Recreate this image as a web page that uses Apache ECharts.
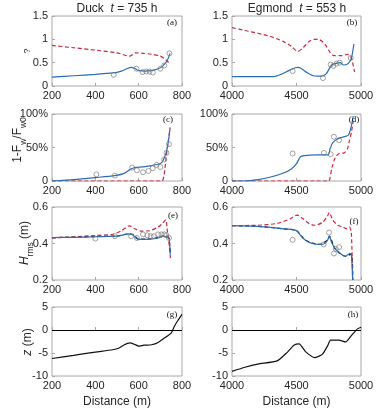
<!DOCTYPE html>
<html><head><meta charset="utf-8">
<script src="https://cdn.jsdelivr.net/npm/echarts@6/dist/echarts.min.js"></script>
<style>html,body{margin:0;padding:0;background:#fff}#c{width:379px;height:413px}</style>
</head><body><div id="c"></div>
<script>
// ---- data ----
const duckXTicks = [200, 800, 200];      // min, max, interval
const egXTicks = [4000, 5000, 500];
const gammaTicks = [0, 1.5, 0.5];
const fluxTicks = [0, 100, 50];
const hrmsTicks = [0.2, 0.6, 0.2];
const zTicks = [-10, 5, 5];

const duckGammaModel = [[200,0.19],[300,0.22],[400,0.25],[480,0.28],[520,0.32],[545,0.37],[565,0.40],[580,0.38],[600,0.33],[630,0.32],[660,0.33],[690,0.37],[710,0.42],[725,0.50],[735,0.58],[745,0.70]];
const duckGammaRef = [[200,0.87],[300,0.82],[400,0.77],[500,0.71],[560,0.64],[585,0.71],[620,0.70],[660,0.68],[700,0.64],[720,0.58],[735,0.52],[745,0.47]];
const duckGammaObs = [[485,0.24],[590,0.37],[618,0.30],[635,0.31],[650,0.31],[665,0.29],[700,0.37],[718,0.44],[742,0.70]];

const egGammaModel = [[4000,0.2],[4150,0.2],[4320,0.2],[4380,0.25],[4440,0.33],[4490,0.39],[4510,0.40],[4540,0.37],[4580,0.29],[4630,0.22],[4690,0.21],[4730,0.26],[4760,0.40],[4780,0.46],[4815,0.49],[4840,0.50],[4865,0.45],[4895,0.47],[4915,0.53],[4930,0.65],[4945,0.90]];
const egGammaRef = [[4000,1.25],[4100,1.19],[4200,1.13],[4300,1.06],[4400,0.95],[4460,0.85],[4510,0.74],[4550,0.82],[4600,0.96],[4640,1.0],[4680,0.99],[4720,0.90],[4760,0.72],[4790,0.65],[4850,0.65],[4895,0.68],[4920,0.64],[4935,0.50],[4950,0.30]];
const egGammaObs = [[4470,0.32],[4705,0.17],[4765,0.46],[4785,0.43],[4810,0.48],[4835,0.50],[4920,0.60]];

const duckFluxModel = [[200,0],[300,2],[400,5],[490,8],[530,11],[560,17],[580,20],[620,21],[660,23],[690,25],[705,27],[715,32],[725,40],[735,55],[745,78]];
const duckFluxRef = [[200,0],[706,0],[712,2],[718,10],[726,33],[736,58],[745,80]];
const duckFluxObs = [[405,10],[490,8],[570,20],[592,16],[620,13],[645,15],[665,19],[683,24],[700,21],[718,32],[728,42],[740,55]];

const egFluxModel = [[4000,0],[4100,0],[4200,2],[4300,6],[4400,12],[4460,18],[4500,26],[4530,36],[4560,38],[4650,39],[4745,39],[4760,48],[4780,57],[4810,62],[4850,65],[4900,68],[4920,78],[4940,97]];
const egFluxRef = [[4000,0],[4750,0],[4760,5],[4775,20],[4800,35],[4830,41],[4870,42],[4895,48],[4910,60],[4925,72],[4940,90]];
const egFluxObs = [[4470,41],[4712,42],[4765,40],[4790,66],[4830,61]];

const duckHModel = [[200,0.432],[300,0.434],[400,0.437],[500,0.44],[530,0.447],[550,0.453],[570,0.45],[590,0.428],[605,0.423],[650,0.424],[690,0.43],[715,0.44],[730,0.435],[740,0.43],[746,0.34]];
const duckHRef = [[200,0.43],[300,0.437],[400,0.444],[480,0.45],[520,0.47],[557,0.497],[580,0.482],[611,0.468],[650,0.47],[690,0.49],[710,0.51],[725,0.53],[733,0.46],[740,0.40],[747,0.32]];
const duckHAlt = [[200,0.432],[300,0.435],[400,0.438],[500,0.441],[550,0.452],[575,0.448],[600,0.424],[650,0.425],[690,0.432],[715,0.442],[732,0.437],[740,0.43],[746,0.34]];
const duckHObs = [[400,0.427],[490,0.44],[565,0.44],[592,0.43],[620,0.45],[640,0.445],[655,0.44],[670,0.44],[690,0.45],[705,0.45],[718,0.45],[728,0.445],[740,0.43]];

const egHModel = [[4000,0.498],[4100,0.497],[4200,0.494],[4300,0.488],[4400,0.48],[4480,0.475],[4505,0.468],[4530,0.445],[4570,0.418],[4620,0.40],[4680,0.395],[4720,0.40],[4742,0.42],[4755,0.44],[4770,0.41],[4800,0.37],[4850,0.34],[4880,0.33],[4910,0.345],[4925,0.342],[4935,0.20]];
const egHRef = [[4000,0.498],[4200,0.50],[4350,0.51],[4450,0.535],[4505,0.556],[4550,0.535],[4600,0.508],[4640,0.50],[4700,0.515],[4740,0.55],[4755,0.57],[4780,0.53],[4820,0.50],[4860,0.49],[4890,0.48],[4910,0.49],[4925,0.46],[4935,0.20]];
const egHAlt = [[4000,0.498],[4200,0.494],[4400,0.48],[4500,0.47],[4570,0.418],[4680,0.395],[4742,0.42],[4755,0.44],[4800,0.37],[4880,0.33],[4925,0.342],[4936,0.20]];
const egHObs = [[4470,0.42],[4710,0.395],[4753,0.46],[4790,0.345],[4805,0.37],[4830,0.38]];

const duckZ = [[200,-6.2],[300,-5.5],[400,-4.8],[480,-4.3],[510,-3.9],[530,-3.3],[560,-2.8],[580,-3.1],[600,-3.5],[625,-3.3],[660,-3.2],[690,-2.7],[720,-1.7],[750,-0.7],[765,0.8],[780,2.0],[800,3.4]];
const egZ = [[4000,-9],[4100,-8.1],[4200,-7.4],[4350,-6.7],[4430,-4.8],[4480,-3.3],[4520,-3.0],[4570,-4.7],[4640,-6.0],[4700,-5.3],[4740,-3.5],[4765,-2.2],[4830,-2.2],[4880,-2.6],[4920,-1.4],[4970,0.2],[5000,0.6]];

const panelLabels = ['(a)','(b)','(c)','(d)','(e)','(f)','(g)','(h)'];

// ---- layout ----
const FONT = '"Liberation Sans", Arial, sans-serif';
const SERIF = '"Liberation Serif", "Times New Roman", serif';
const BLUE = '#2a6db5', RED = '#c9283e', GRAYC = '#7d7d7d';
const grids = [
  {left:52, top:16, width:130, height:70},
  {left:232, top:16, width:129, height:70},
  {left:52, top:114, width:130, height:67},
  {left:232, top:114, width:129, height:67},
  {left:52, top:207, width:130, height:73},
  {left:232, top:207, width:129, height:73},
  {left:52, top:307, width:130, height:69},
  {left:232, top:307, width:129, height:69}
].map(g => Object.assign({show:true, borderColor:'#a8a8a8', borderWidth:1, backgroundColor:'#fff'}, g));

const yTicksList = [gammaTicks, gammaTicks, fluxTicks, fluxTicks, hrmsTicks, hrmsTicks, zTicks, zTicks];
const tickStyle = {show:true, inside:true, length:3, lineStyle:{color:'#a8a8a8', width:1}};
const xAxes = grids.map((g,i) => {
  const t = i % 2 === 0 ? duckXTicks : egXTicks;
  return {
    gridIndex:i, type:'value', min:t[0], max:t[1], interval:t[2],
    axisLine:{show:false}, axisTick:tickStyle, splitLine:{show:false},
    axisLabel:{color:'#262626', fontFamily:FONT, fontSize:11, margin:4, formatter: v => String(v)},
    name: i >= 6 ? 'Distance (m)' : '', nameLocation:'middle', nameGap:20,
    nameTextStyle:{color:'#262626', fontFamily:FONT, fontSize:12}
  };
});
const yAxes = grids.map((g,i) => {
  const t = yTicksList[i];
  return {
    gridIndex:i, type:'value', min:t[0], max:t[1], interval:t[2],
    axisLine:{show:false}, axisTick:tickStyle, splitLine:{show:false},
    axisLabel:{color:'#262626', fontFamily:FONT, fontSize:11, margin:4,
      formatter: (i===2||i===3) ? (v => v===0 ? '0' : v+'%') : (v => String(v))}
  };
});

function line(idx, data, color, dashed, z) {
  return {type:'line', xAxisIndex:idx, yAxisIndex:idx, data:data, showSymbol:false, smooth:0.25,
    lineStyle:{color:color, width:1.2, type: dashed ? [4,2.5] : 'solid'}, z:z||3, silent:true};
}
function obs(idx, data) {
  return {type:'scatter', xAxisIndex:idx, yAxisIndex:idx, data:data, symbol:'circle', symbolSize:5,
    itemStyle:{color:'rgba(0,0,0,0)', borderColor:GRAYC, borderWidth:0.9}, z:5, silent:true};
}
const zeroLine = {silent:true, symbol:'none', label:{show:false}, lineStyle:{color:'#000', width:1, type:'solid'}, data:[{yAxis:0}]};

const series = [
  line(0, duckGammaRef, RED, true), line(0, duckGammaModel, BLUE, false, 4), obs(0, duckGammaObs),
  line(1, egGammaRef, RED, true), line(1, egGammaModel, BLUE, false, 4), obs(1, egGammaObs),
  line(2, duckFluxRef, RED, true), line(2, duckFluxModel, BLUE, false, 4), obs(2, duckFluxObs),
  line(3, egFluxRef, RED, true), line(3, egFluxModel, BLUE, false, 4), obs(3, egFluxObs),
  line(4, duckHAlt, '#111', true, 2), line(4, duckHRef, RED, true), line(4, duckHModel, BLUE, false, 4), obs(4, duckHObs),
  line(5, egHAlt, '#111', true, 2), line(5, egHRef, RED, true), line(5, egHModel, BLUE, false, 4), obs(5, egHObs),
  Object.assign(line(6, duckZ, '#111', false), {smooth:0.2, markLine:zeroLine}),
  Object.assign(line(7, egZ, '#111', false), {smooth:0.2, markLine:zeroLine})
];

const labelPos = [[172,23],[352,23],[168,120],[354,120],[173,216],[354,222],[172,315],[353,315]];
const graphic = panelLabels.map((t,i) => ({type:'text', x:labelPos[i][0], y:labelPos[i][1], z:10,
  style:{text:t, font:'9px ' + SERIF, fill:'#111', align:'center', verticalAlign:'middle'}}));

const RICH = {
  n:{fontFamily:FONT, fontSize:12, color:'#262626', lineHeight:12, verticalAlign:'top'},
  i:{fontFamily:FONT, fontSize:12, fontStyle:'italic', color:'#262626', lineHeight:12, verticalAlign:'top'},
  s:{fontFamily:FONT, fontSize:8.5, color:'#262626', lineHeight:8, padding:[7,0,0,0], verticalAlign:'top'}
};
function rtext(x, y, text, rot) {
  return {type:'text', x:x, y:y, rotation:rot||0, z:10,
    style:{text:text, rich:RICH, align:'center', verticalAlign:'middle', fill:'#262626'}};
}
graphic.push(rtext(117, 9, '{n|Duck  }{i|t}{n| = 735 h}'));
graphic.push(rtext(297, 9, '{n|Egmond  }{i|t}{n| = 553 h}'));
graphic.push({type:'text', x:28, y:51, rotation:Math.PI/2, z:10,
  style:{text:'?', font:'9px ' + FONT, fill:'#262626', align:'center', verticalAlign:'middle'}});
graphic.push(rtext(18, 140, '{n|1-F}{s|w}{n|/F}{s|w0}', Math.PI/2));
graphic.push(rtext(25, 243, '{i|H}{s|rms}{n| (m)}', Math.PI/2));
graphic.push(rtext(28, 342, '{i|z}{n| (m)}', Math.PI/2));

const chart = echarts.init(document.getElementById('c'), null, {renderer:'canvas'});
chart.setOption({
  animation:false, backgroundColor:'#fff',
  grid:grids, xAxis:xAxes, yAxis:yAxes, series:series, graphic:graphic
});
</script></body></html>
